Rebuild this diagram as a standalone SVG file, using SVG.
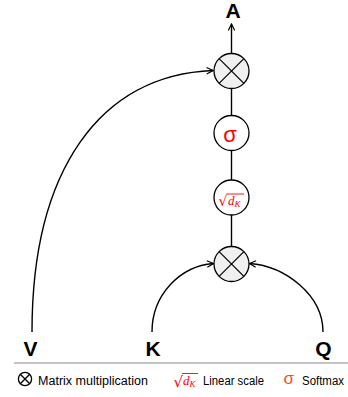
<svg xmlns="http://www.w3.org/2000/svg" width="348" height="397" viewBox="0 0 348 397">
<defs>
<marker id="arr" viewBox="0 0 10 10" refX="9" refY="5" markerWidth="8" markerHeight="8" orient="auto" markerUnits="userSpaceOnUse">
<path d="M1,1 L9,5 L1,9" fill="none" stroke="#000" stroke-width="1.5"/>
</marker>
</defs>
<style>
.op{fill:#f0f0f0;stroke:#000;stroke-width:1.3}
.fn{fill:#fff;stroke:#000;stroke-width:1.3}
.x{stroke:#000;stroke-width:1.2}
.lbl{font-family:"Liberation Sans",Arial,sans-serif;font-weight:bold;font-size:21px;fill:#000;text-anchor:middle}
.leg{font-family:"Liberation Sans",Arial,sans-serif;font-size:12px;fill:#000}
.con{fill:none;stroke:#000;stroke-width:1.4}
.red{fill:#ff0000}
</style>
<g id="connectors">
<path class="con" d="M231.5,53 L231.5,24" marker-end="url(#arr)"/>
<path class="con" d="M231.5,88.5 L231.5,115.5"/>
<path class="con" d="M231.5,150.5 L231.5,180"/>
<path class="con" d="M231.5,215 L231.5,246.5"/>
<path class="con" d="M32,332 C32,170 100,75 213,70.5" marker-end="url(#arr)"/>
<path class="con" d="M152,332 C152,295 180,266 213.5,263.5" marker-end="url(#arr)"/>
<path class="con" d="M323,332 C323,295 285,266 249.5,263.5" marker-end="url(#arr)"/>
</g>
<g id="mul_top">
<circle class="op" cx="231.5" cy="71" r="17.5"/>
<line class="x" x1="219.1" y1="58.6" x2="243.9" y2="83.4"/>
<line class="x" x1="243.9" y1="58.6" x2="219.1" y2="83.4"/>
</g>
<g id="softmax">
<circle class="fn" cx="231.5" cy="133" r="17.5"/>
<text x="230" y="142" font-family="Liberation Sans,Arial,sans-serif" font-size="22" class="red" text-anchor="middle">σ</text>
</g>
<g id="scale">
<circle class="fn" cx="231.5" cy="197.5" r="17.5"/>
<text x="218.5" y="206" font-family="DejaVu Sans,sans-serif" font-size="14" class="red">√</text>
<line x1="226.5" y1="194" x2="244" y2="194" stroke="#ff0000" stroke-width="0.9"/>
<text x="228" y="205" font-family="Liberation Serif,serif" font-style="italic" font-size="13" class="red">d<tspan font-size="9" dy="2">K</tspan></text>
</g>
<g id="mul_bottom">
<circle class="op" cx="231.5" cy="264" r="17.5"/>
<line class="x" x1="219.1" y1="251.6" x2="243.9" y2="276.4"/>
<line class="x" x1="243.9" y1="251.6" x2="219.1" y2="276.4"/>
</g>
<g id="A"><text class="lbl" x="233" y="17.5">A</text></g>
<g id="V"><text class="lbl" x="30.5" y="356">V</text></g>
<g id="K"><text class="lbl" x="153" y="356">K</text></g>
<g id="Q"><text class="lbl" x="323.5" y="356">Q</text></g>
<g id="legend">
<line x1="14" y1="363" x2="348" y2="363" stroke="#888" stroke-width="1"/>
<circle cx="25" cy="379" r="6.6" fill="#fff" stroke="#000" stroke-width="1.3"/>
<line x1="20.3" y1="374.3" x2="29.7" y2="383.7" stroke="#000" stroke-width="1.3"/>
<line x1="29.7" y1="374.3" x2="20.3" y2="383.7" stroke="#000" stroke-width="1.3"/>
<text class="leg" x="38" y="385" textLength="110" lengthAdjust="spacingAndGlyphs">Matrix multiplication</text>
<text x="173.5" y="387" font-family="DejaVu Sans,sans-serif" font-size="15" class="red">√</text>
<line x1="182" y1="373.5" x2="198" y2="373.5" stroke="#ff0000" stroke-width="0.9"/>
<text x="183" y="385" font-family="Liberation Serif,serif" font-style="italic" font-size="13" class="red">d<tspan font-size="9" dy="2">K</tspan></text>
<text class="leg" x="203" y="385" textLength="61" lengthAdjust="spacingAndGlyphs">Linear scale</text>
<text x="283.5" y="384" font-family="Liberation Sans,Arial,sans-serif" font-size="17" fill="#f4511e">σ</text>
<text class="leg" x="302" y="385" textLength="42" lengthAdjust="spacingAndGlyphs">Softmax</text>
</g>
</svg>
